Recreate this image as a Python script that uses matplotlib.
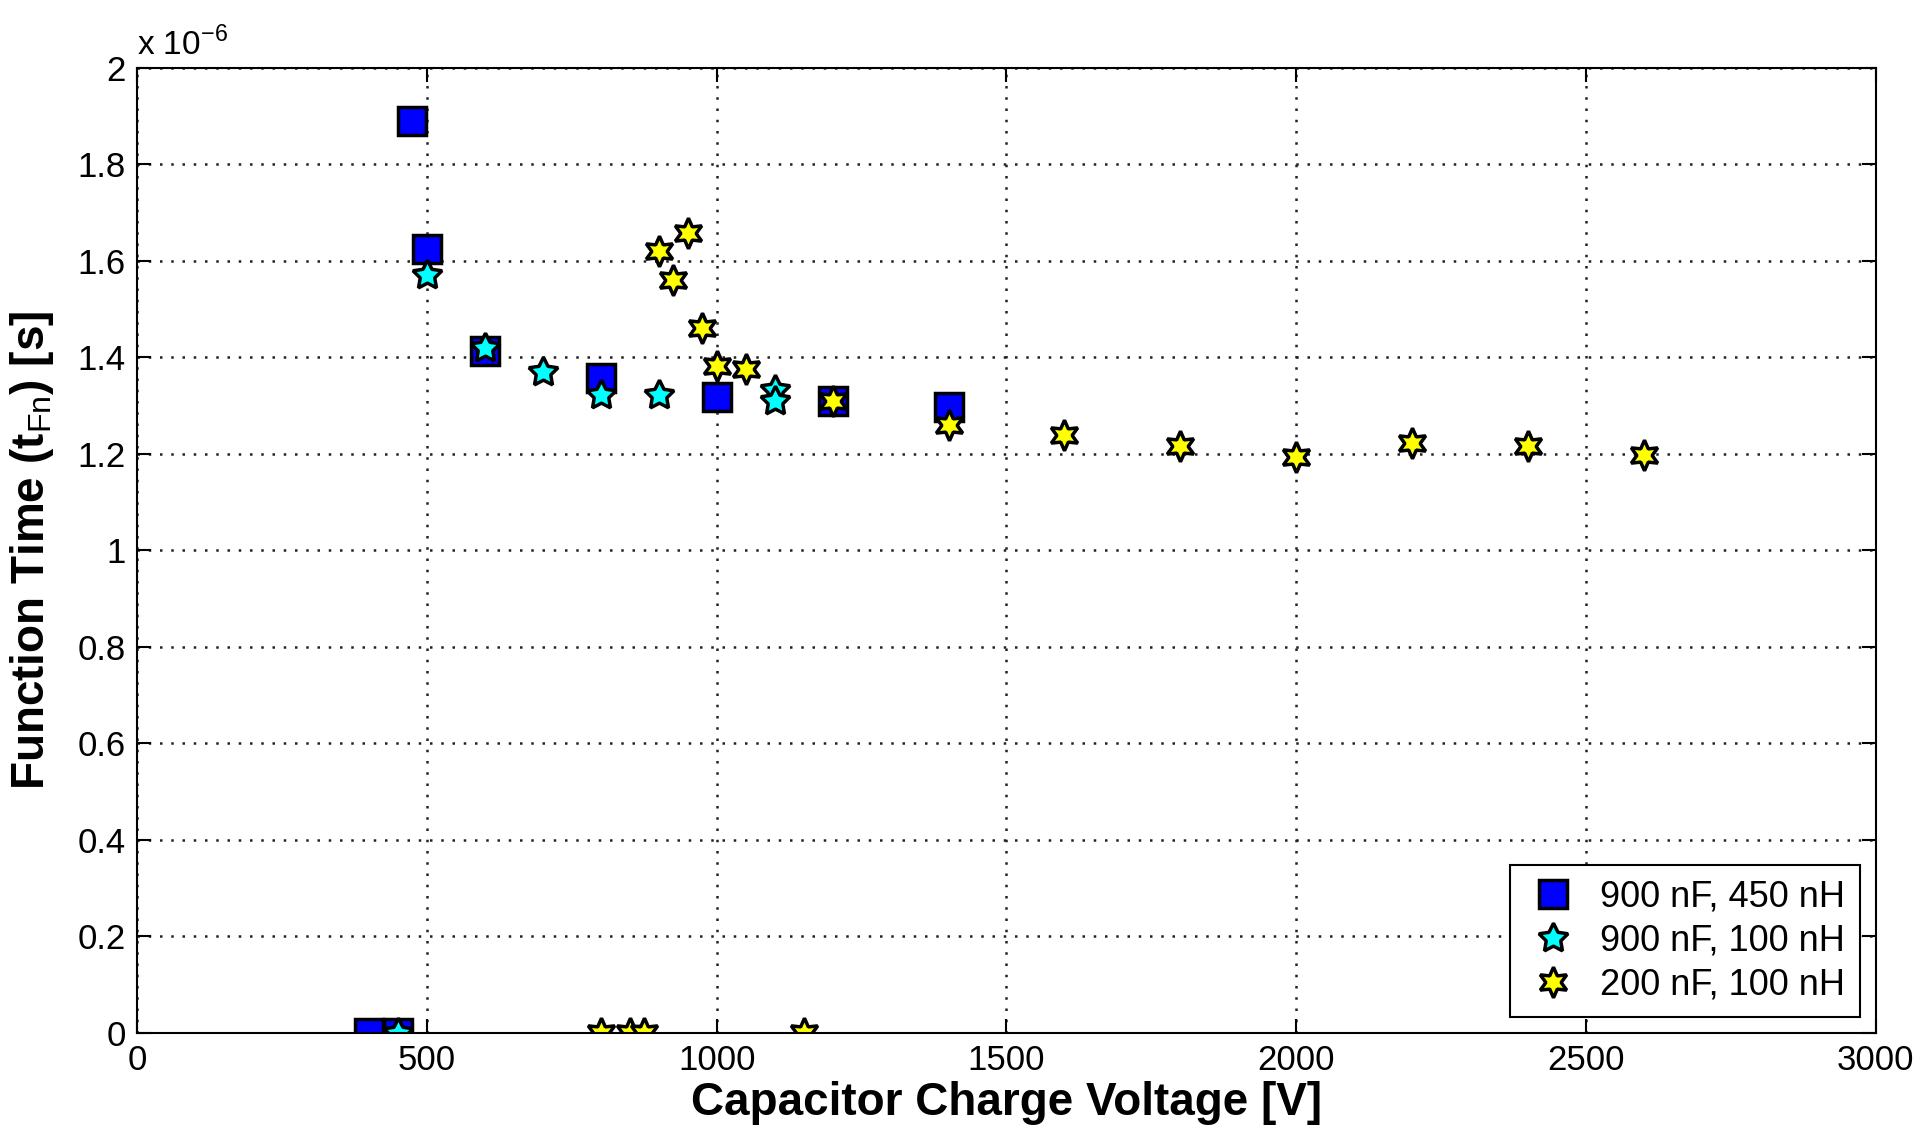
#!/usr/bin/env python3
import matplotlib
matplotlib.use('Agg')
import matplotlib.pyplot as plt
from matplotlib.ticker import FuncFormatter

plt.rcParams['font.family'] = ['Liberation Sans', 'DejaVu Sans']
plt.rcParams['mathtext.fontset'] = 'custom'
plt.rcParams['mathtext.rm'] = 'Liberation Sans'
plt.rcParams['mathtext.bf'] = 'Liberation Sans:bold'

# 900 nF, 450 nH
v_a = [400, 450, 475, 500, 600, 800, 1000, 1200, 1400]
t_a = [0.0, 0.0, 1.89, 1.625, 1.414, 1.358, 1.317, 1.31, 1.297]

# 900 nF, 100 nH
v_b = [450, 500, 600, 700, 800, 900, 1100, 1100]
t_b = [0.0, 1.571, 1.42, 1.37, 1.322, 1.322, 1.333, 1.31]

# 200 nF, 100 nH
v_c = [800, 850, 875, 1150, 900, 925, 950, 975, 1000, 1050,
       1200, 1400, 1600, 1800, 2000, 2200, 2400, 2600]
t_c = [0.0, 0.0, 0.0, 0.0, 1.62, 1.56, 1.657, 1.46, 1.383, 1.376,
       1.31, 1.259, 1.239, 1.216, 1.193, 1.223, 1.216, 1.198]

labels = ['900 nF, 450 nH', '900 nF, 100 nH', '200 nF, 100 nH']
scale = 1e-6


def main():
    fig = plt.figure(figsize=(19.2, 11.32), dpi=100)
    ax = fig.add_axes([0.0714, 0.0875, 0.9056, 0.8525])

    ax.plot(v_a, [t * scale for t in t_a], linestyle='none', marker='s',
            markersize=20, markerfacecolor='#0000ff', markeredgecolor='k',
            markeredgewidth=2.5, label=labels[0])
    ax.plot(v_b, [t * scale for t in t_b], linestyle='none', marker=(5, 1, 0),
            markersize=22, markerfacecolor='#00ffff', markeredgecolor='k',
            markeredgewidth=2.5, label=labels[1])
    ax.plot(v_c, [t * scale for t in t_c], linestyle='none', marker=(6, 1, 0),
            markersize=22, markerfacecolor='#ffff00', markeredgecolor='k',
            markeredgewidth=2.5, label=labels[2])

    ax.set_xlim(0, 3000)
    ax.set_ylim(0, 2e-6)
    ax.set_xticks(range(0, 3001, 500))
    ax.set_yticks([i * 0.2e-6 for i in range(11)])
    ax.yaxis.set_major_formatter(FuncFormatter(lambda v, _: f'{v / scale:g}'))

    ax.tick_params(direction='in', top=True, right=True, length=10,
                   width=1.5, labelsize=25, pad=8)
    for s in ax.spines.values():
        s.set_linewidth(1.5)

    ax.grid(True, color='#222222', linestyle=(0, (1, 3.5)), linewidth=1.8)
    ax.set_axisbelow(True)

    ax.text(0, 1.006, r'x 10$^{-6}$', transform=ax.transAxes,
            ha='left', va='bottom', fontsize=24)

    ax.set_xlabel('Capacitor Charge Voltage [V]', fontsize=33,
                  fontweight='bold', labelpad=3)
    ax.set_ylabel(r'Function Time (t$_{\mathrm{Fn}}$) [s]', fontsize=33,
                  fontweight='bold', labelpad=16)

    leg = ax.legend(loc='lower right', fontsize=26, frameon=True,
                    fancybox=False, edgecolor='k', framealpha=1,
                    borderpad=0.4, handletextpad=0.5, labelspacing=0.25,
                    borderaxespad=0.45, handlelength=1.6)
    leg.get_frame().set_linewidth(1.5)

    fig.savefig('out.png', dpi=100)


if __name__ == "__main__":
    main()
